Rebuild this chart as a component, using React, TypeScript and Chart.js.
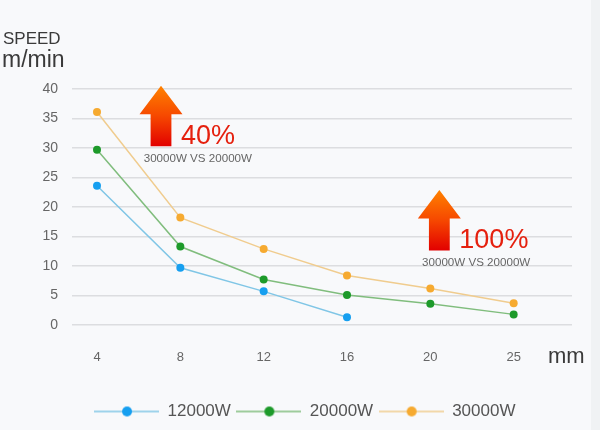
import React, { useEffect, useRef } from 'react';
import { Chart, registerables } from 'chart.js';

Chart.register(...registerables);

// ---- data ----
const thicknessLabels = ['4', '8', '12', '16', '20', '25'];
const seriesNames = ['12000W', '20000W', '30000W'];
const speed12000 = [23.6, 9.7, 5.7, 1.3];
const speed20000 = [29.7, 13.3, 7.7, 5.1, 3.6, 1.8];
const speed30000 = [36.1, 18.2, 12.9, 8.4, 6.2, 3.7];
const yTickValues = [0, 5, 10, 15, 20, 25, 30, 35, 40];
const boostTexts = ['40%', '100%'];
const compareText = '30000W VS 20000W';

const FONT = '"Liberation Sans", Arial, sans-serif';
const lineColors = ['#80c6e6', '#80bd7d', '#f0cc8e'];
const dotColors = ['#169ff0', '#1d9a2a', '#f6aa30'];

function legendImg(line: string, dot: string) {
  const c = document.createElement('canvas');
  c.width = 65;
  c.height = 12;
  const g = c.getContext('2d')!;
  g.strokeStyle = line;
  g.lineWidth = 1.5;
  g.beginPath();
  g.moveTo(0, 6);
  g.lineTo(65, 6);
  g.stroke();
  g.fillStyle = dot;
  g.beginPath();
  g.arc(33, 6, 5, 0, Math.PI * 2);
  g.fill();
  return c;
}

function drawArrow(ctx: CanvasRenderingContext2D, ax: number, ay: number) {
  const headH = 28.6, headW = 21.5, shaftW = 10.4, total = 60.5;
  const grad = ctx.createLinearGradient(0, ay, 0, ay + total);
  grad.addColorStop(0, '#ff8200');
  grad.addColorStop(0.5, '#f64800');
  grad.addColorStop(1, '#e20000');
  ctx.fillStyle = grad;
  ctx.beginPath();
  ctx.moveTo(ax, ay);
  ctx.lineTo(ax + headW, ay + headH);
  ctx.lineTo(ax + shaftW, ay + headH);
  ctx.lineTo(ax + shaftW, ay + total);
  ctx.lineTo(ax - shaftW, ay + total);
  ctx.lineTo(ax - shaftW, ay + headH);
  ctx.lineTo(ax - headW, ay + headH);
  ctx.closePath();
  ctx.fill();
}

const bgPlugin = {
  id: 'bg',
  beforeDraw(chart: any) {
    const { ctx, width, height } = chart;
    ctx.save();
    ctx.fillStyle = '#f8f9fb';
    ctx.fillRect(0, 0, width, height);
    ctx.fillStyle = '#f0f2f4';
    ctx.fillRect(591, 0, width - 591, height);
    ctx.restore();
  },
};

// annotation anchors in data space (x index, y value)
const arrowAnchors = [
  { x: 0.768, y: 40.55 },
  { x: 4.108, y: 22.9 },
];

const annotPlugin = {
  id: 'annot',
  afterDraw(chart: any) {
    const { ctx } = chart;
    const xs = chart.scales.x;
    const ys = chart.scales.y;
    ctx.save();
    arrowAnchors.forEach((a, i) => {
      const ax = xs.getPixelForValue(a.x);
      const ay = ys.getPixelForValue(a.y);
      drawArrow(ctx, ax, ay);
      ctx.fillStyle = '#e5200e';
      ctx.font = `27px ${FONT}`;
      ctx.textAlign = 'left';
      ctx.textBaseline = 'alphabetic';
      ctx.fillText(boostTexts[i], ax + 20, ay + 58);
      ctx.fillStyle = '#666';
      ctx.font = `11.6px ${FONT}`;
      ctx.fillText(compareText, ax - 17.3, ay + 76.3);
    });
    ctx.fillStyle = '#3a3a3a';
    ctx.textAlign = 'left';
    ctx.textBaseline = 'alphabetic';
    ctx.font = `17px ${FONT}`;
    ctx.fillText('SPEED', 3, 44);
    ctx.font = `23px ${FONT}`;
    ctx.fillText('m/min', 2, 66.5);
    ctx.font = `22px ${FONT}`;
    ctx.fillText('mm', 548, 363);
    ctx.restore();
  },
};

export default function App() {
  const ref = useRef<HTMLCanvasElement | null>(null);

  useEffect(() => {
    document.body.style.margin = '0';
    const canvas = ref.current!;
    const imgs = [0, 1, 2].map((i) => legendImg(lineColors[i], dotColors[i]));
    const seriesValues = [speed12000, speed20000, speed30000];
    const chart = new Chart(canvas, {
      type: 'line',
      data: {
        datasets: seriesValues.map((vals, i) => ({
          label: seriesNames[i],
          data: vals.map((v, k) => ({ x: k, y: v })),
          borderColor: lineColors[i],
          backgroundColor: dotColors[i],
          pointBackgroundColor: dotColors[i],
          pointBorderWidth: 0,
          pointRadius: 4,
          borderWidth: 1.5,
          tension: 0,
          fill: false,
        })),
      },
      options: {
        responsive: false,
        animation: false,
        layout: { padding: { top: 89, right: 28, left: 37.5, bottom: 0 } },
        scales: {
          x: {
            type: 'linear',
            min: -0.3,
            max: 5.7,
            grid: { display: false },
            border: { display: false },
            afterBuildTicks: (s: any) => {
              s.ticks = thicknessLabels.map((_, i) => ({ value: i }));
            },
            afterFit: (s: any) => {
              s.height = 72.5;
            },
            ticks: {
              padding: 16.5,
              color: '#666',
              font: { family: FONT, size: 13 },
              callback: (v: any) => thicknessLabels[v as number] ?? '',
            },
          },
          y: {
            min: 0,
            max: 40,
            afterBuildTicks: (s: any) => {
              s.ticks = yTickValues.map((v) => ({ value: v }));
            },
            afterFit: (s: any) => {
              s.width = 34.5;
            },
            grid: { color: '#dcdde0', lineWidth: 1.5, drawTicks: false },
            border: { display: false },
            ticks: {
              padding: 14,
              color: '#666',
              font: { family: FONT, size: 14 },
            },
          },
        },
        plugins: {
          tooltip: { enabled: false },
          legend: {
            position: 'bottom',
            labels: {
              usePointStyle: true,
              pointStyleWidth: 65,
              padding: 5.5,
              color: '#555',
              font: { family: FONT, size: 17 },
              generateLabels: (c: any) => {
                const items = (Chart.defaults.plugins.legend.labels as any).generateLabels(c);
                items.forEach((it: any, i: number) => {
                  it.pointStyle = imgs[i];
                });
                return items;
              },
            },
          },
        },
      },
      plugins: [bgPlugin, annotPlugin],
    } as any);
    return () => chart.destroy();
  }, []);

  return (
    <div style={{ position: 'absolute', left: 0, top: 0, width: 600, height: 430 }}>
      <canvas ref={ref} width={600} height={430} />
    </div>
  );
}
